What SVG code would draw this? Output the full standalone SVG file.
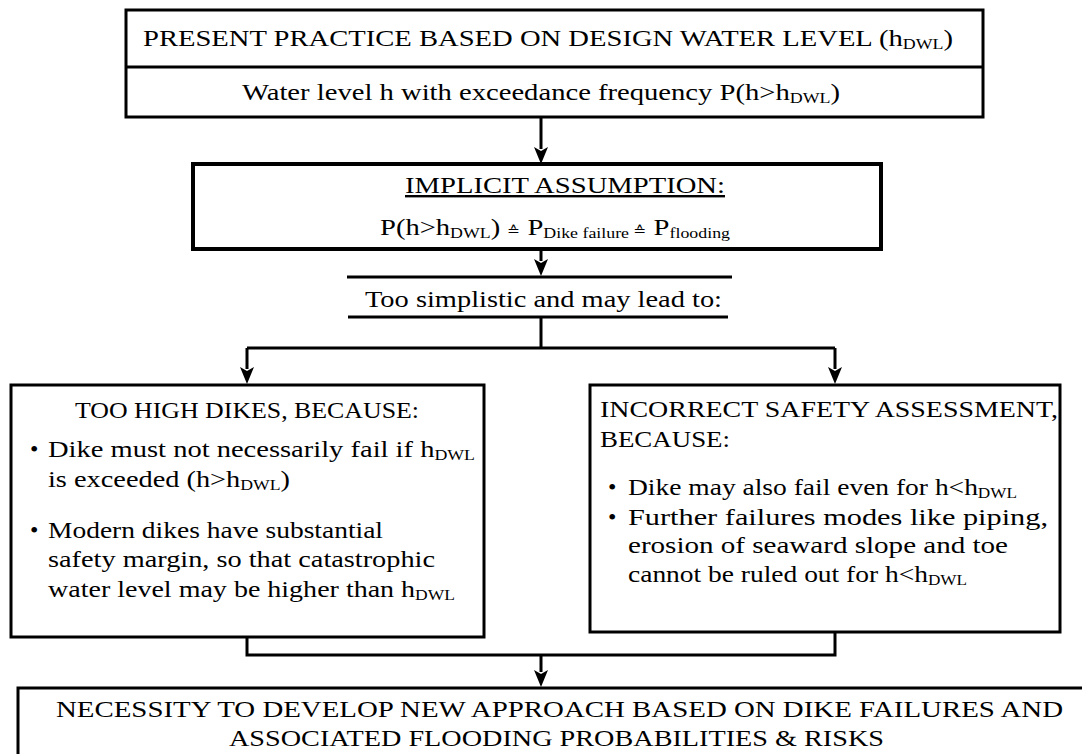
<svg xmlns="http://www.w3.org/2000/svg" width="1082" height="754" viewBox="0 0 1082 754">
  <style>
    .box { fill: #fff; stroke: #000; stroke-width: 3; }
    .thick { stroke-width: 4; }
    .line { fill: none; stroke: #000; stroke-width: 3; }
    .t { font-family: 'Liberation Serif', 'Times New Roman', Tinos, 'DejaVu Serif', 'Noto Serif', serif; font-size: 24px; fill: #000; }
    .sub { font-size: 15px; }
    .est { font-family: 'DejaVu Sans', sans-serif; font-size: 13px; }
  </style>

  <!-- connectors -->
  <g id="connectors">
    <path class="line" d="M541,117 V149"/>
    <path d="M541,164 L534,147 L541,151 L548,147 Z" fill="#000"/>
    <path class="line" d="M541,250 V261"/>
    <path d="M541,276 L534,259 L541,263 L548,259 Z" fill="#000"/>
    <path class="line" d="M541,318 V348 M247,348 H835 M247,348 V369 M835,348 V369"/>
    <path d="M247,384 L240,367 L247,371 L254,367 Z" fill="#000"/>
    <path d="M835,384 L828,367 L835,371 L842,367 Z" fill="#000"/>
    <path class="line" d="M247,637 V655 H835 V632 M541,655 V672"/>
    <path d="M541,687 L534,670 L541,674 L548,670 Z" fill="#000"/>
  </g>

  <!-- present practice -->
  <g id="present-practice">
    <rect class="box" x="126" y="10" width="857" height="107"/>
    <line class="line" x1="126" y1="67" x2="983" y2="67"/>
    <text class="t" x="143" y="46" textLength="810" lengthAdjust="spacingAndGlyphs">PRESENT PRACTICE BASED ON DESIGN WATER LEVEL (h<tspan class="sub" dy="3">DWL</tspan><tspan dy="-3">)</tspan></text>
    <text class="t" x="242" y="100" textLength="598" lengthAdjust="spacingAndGlyphs">Water level h with exceedance frequency P(h&gt;h<tspan class="sub" dy="3">DWL</tspan><tspan dy="-3">)</tspan></text>
  </g>

  <!-- implicit assumption -->
  <g id="implicit-assumption">
    <rect class="box thick" x="193" y="164" width="688" height="85"/>
    <text class="t" x="405" y="193" textLength="320" lengthAdjust="spacingAndGlyphs" text-decoration="underline">IMPLICIT ASSUMPTION:</text>
    <text class="t" x="380" y="235" textLength="350" lengthAdjust="spacingAndGlyphs">P(h&gt;h<tspan class="sub" dy="3">DWL</tspan><tspan dy="-3">) </tspan><tspan class="est">≙</tspan> P<tspan class="sub" dy="3">Dike failure </tspan><tspan class="est" dy="-3">≙</tspan> P<tspan class="sub" dy="3">flooding</tspan></text>
  </g>

  <!-- too simplistic -->
  <g id="too-simplistic">
    <line class="line" x1="347" y1="277" x2="732" y2="277"/>
    <line class="line" x1="348" y1="317" x2="728" y2="317"/>
    <text class="t" x="365" y="307" textLength="357" lengthAdjust="spacingAndGlyphs">Too simplistic and may lead to:</text>
  </g>

  <!-- too high dikes -->
  <g id="too-high-dikes">
    <rect class="box" x="11" y="385" width="473" height="252"/>
    <text class="t" x="75" y="418" textLength="344" lengthAdjust="spacingAndGlyphs">TOO HIGH DIKES, BECAUSE:</text>
    <text class="t" x="30" y="457">•</text>
    <text class="t" x="48" y="457" textLength="427" lengthAdjust="spacingAndGlyphs">Dike must not necessarily fail if  h<tspan class="sub" dy="3">DWL</tspan></text>
    <text class="t" x="48" y="487" textLength="242" lengthAdjust="spacingAndGlyphs">is exceeded  (h&gt;h<tspan class="sub" dy="3">DWL</tspan><tspan dy="-3">)</tspan></text>
    <text class="t" x="30" y="538">•</text>
    <text class="t" x="48" y="538" textLength="335" lengthAdjust="spacingAndGlyphs">Modern dikes have substantial</text>
    <text class="t" x="48" y="567" textLength="387" lengthAdjust="spacingAndGlyphs">safety margin, so that catastrophic</text>
    <text class="t" x="48" y="597" textLength="407" lengthAdjust="spacingAndGlyphs">water level may be higher than h<tspan class="sub" dy="3">DWL</tspan></text>
  </g>

  <!-- incorrect safety assessment -->
  <g id="incorrect-safety">
    <rect class="box" x="590" y="385" width="470" height="247"/>
    <text class="t" x="600" y="417" textLength="458" lengthAdjust="spacingAndGlyphs">INCORRECT SAFETY ASSESSMENT,</text>
    <text class="t" x="600" y="447" textLength="130" lengthAdjust="spacingAndGlyphs">BECAUSE:</text>
    <text class="t" x="608" y="495">•</text>
    <text class="t" x="628" y="495" textLength="389" lengthAdjust="spacingAndGlyphs">Dike may also fail even for h&lt;h<tspan class="sub" dy="3">DWL</tspan></text>
    <text class="t" x="608" y="525">•</text>
    <text class="t" x="628" y="525" textLength="420" lengthAdjust="spacingAndGlyphs">Further failures modes like piping,</text>
    <text class="t" x="628" y="553" textLength="380" lengthAdjust="spacingAndGlyphs">erosion of seaward slope and toe</text>
    <text class="t" x="628" y="582" textLength="339" lengthAdjust="spacingAndGlyphs">cannot be ruled out for h&lt;h<tspan class="sub" dy="3">DWL</tspan></text>
  </g>

  <!-- necessity -->
  <g id="necessity">
    <path class="line" d="M18,756 V688 H1084"/>
    <text class="t" x="56" y="717" textLength="1007" lengthAdjust="spacingAndGlyphs">NECESSITY TO DEVELOP NEW APPROACH BASED ON DIKE FAILURES AND</text>
    <text class="t" x="229" y="746" textLength="655" lengthAdjust="spacingAndGlyphs">ASSOCIATED FLOODING PROBABILITIES &amp; RISKS</text>
  </g>
</svg>
